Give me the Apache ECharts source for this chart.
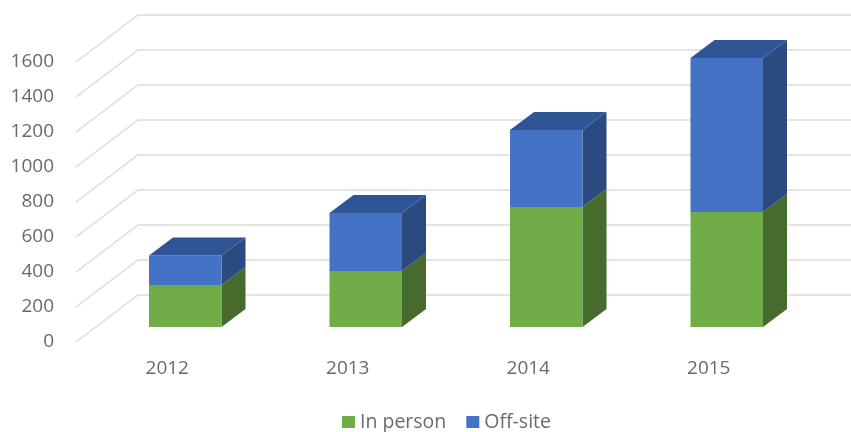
<!DOCTYPE html>
<html>
<head>
<meta charset="utf-8">
<style>
  html, body { margin: 0; padding: 0; background: #fff; }
  /* the reference is a soft, upscaled picture */
  #chart { width: 851px; height: 432px; filter: blur(0.45px); }
</style>
<script src="https://cdn.jsdelivr.net/npm/echarts@6/dist/echarts.min.js"></script>
</head>
<body>
<div id="chart"></div>
<script>
const years = ['2012', '2013', '2014', '2015'];
const inPerson = [240, 320, 686, 657];
const offSite = [168, 331, 440, 880];
const gridValues = [0, 200, 400, 600, 800, 1000, 1200, 1400, 1600];

const myChart = echarts.init(document.getElementById('chart'));

// fake 3D: floor depth in px, and where the bars sit on that floor
const wallDx = 62, wallDy = -47;
const barDx = 18, barDy = -15;
const barW = 72.5, depthDx = 24, depthDy = -18;

function gridRender(params, api) {
    const box = params.coordSys;
    const y = api.coord([0, api.value(0)])[1];
    return {
        type: 'polyline',
        shape: {
            points: [
                [box.x - 1, y],
                [box.x + wallDx - 1, y + wallDy],
                [box.x + box.width + wallDx, y + wallDy]
            ]
        },
        style: { stroke: '#dcdcdc', lineWidth: 1.5, fill: null }
    };
}

function barRender(side, top) {
    return function (params, api) {
        const low = api.coord([api.value(0), api.value(1)]);
        const high = api.coord([api.value(0), api.value(2)]);
        const x0 = low[0] + barDx - barW / 2;
        const x1 = x0 + barW;
        const y0 = low[1] + barDy;
        const y1 = high[1] + barDy;
        const kids = [
            {
                type: 'polygon',
                shape: { points: [[x1, y0], [x1 + depthDx, y0 + depthDy], [x1 + depthDx, y1 + depthDy], [x1, y1]] },
                style: { fill: side }
            },
            {
                type: 'rect',
                shape: { x: x0, y: y1, width: barW, height: y0 - y1 },
                style: { fill: api.visual('color') }
            }
        ];
        if (top) {
            kids.push({
                type: 'polygon',
                shape: { points: [[x0, y1], [x0 + depthDx, y1 + depthDy], [x1 + depthDx, y1 + depthDy], [x1, y1]] },
                style: { fill: top }
            });
        }
        return { type: 'group', children: kids };
    };
}

const option = {
    animation: false,
    textStyle: { fontFamily: 'Open Sans' },
    grid: { left: 77, top: 62, width: 722, height: 280 },
    legend: {
        data: ['In person', 'Off-site'],
        top: 412,
        left: 342,
        padding: 0,
        icon: 'rect',
        itemWidth: 13,
        itemHeight: 12,
        itemGap: 20,
        textStyle: { color: '#6a6a6a', fontSize: 19.5 }
    },
    xAxis: {
        type: 'category',
        data: years,
        axisLine: { show: false },
        axisTick: { show: false },
        axisLabel: { color: '#6a6a6a', fontSize: 19, margin: 17 }
    },
    yAxis: {
        type: 'value',
        min: 0,
        max: 1600,
        interval: 200,
        axisLine: { show: false },
        axisTick: { show: false },
        splitLine: { show: false },
        axisLabel: {
            color: '#6a6a6a',
            fontSize: 19,
            margin: 23,
            formatter: function (v) { return String(v); }
        }
    },
    series: [
        {
            name: 'grid',
            type: 'custom',
            silent: true,
            renderItem: gridRender,
            encode: { y: 0 },
            data: gridValues.map(function (v) { return [v]; })
        },
        {
            name: 'In person',
            type: 'custom',
            silent: true,
            itemStyle: { color: '#70ad47' },
            renderItem: barRender('#476b2c', null),
            encode: { x: 0, y: [1, 2] },
            data: inPerson.map(function (v, i) { return [i, 0, v]; })
        },
        {
            name: 'Off-site',
            type: 'custom',
            silent: true,
            itemStyle: { color: '#4472c4' },
            renderItem: barRender('#2a4a80', '#2f5597'),
            encode: { x: 0, y: [1, 2] },
            data: offSite.map(function (v, i) { return [i, inPerson[i], inPerson[i] + v]; })
        }
    ]
};

myChart.setOption(option);
</script>
</body>
</html>
